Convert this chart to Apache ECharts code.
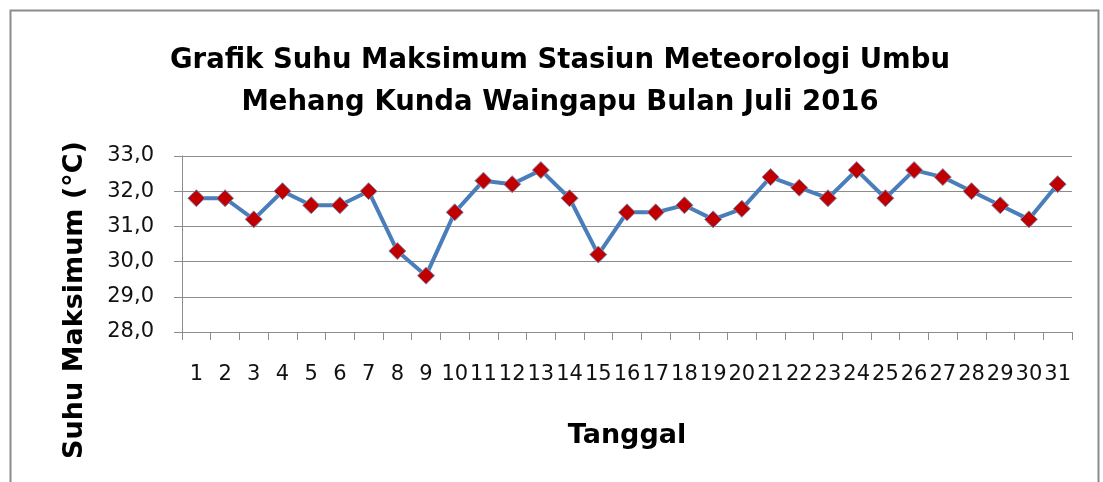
<!DOCTYPE html>
<html>
<head>
<meta charset="utf-8">
<script src="https://cdn.jsdelivr.net/npm/echarts@6/dist/echarts.min.js"></script>
<style>
  html, body { margin: 0; padding: 0; background: #fff; }
  #chart { width: 1103px; height: 482px; }
</style>
</head>
<body>
<div id="chart"></div>
<script>
// tanggal 1..31 Juli 2016
const tanggal = [];
for (let i = 1; i <= 31; i++) tanggal.push(String(i));

// suhu maksimum harian (°C)
const suhuMaks = [
  31.8, 31.8, 31.2, 32.0, 31.6, 31.6, 32.0, 30.3, 29.6, 31.4,
  32.3, 32.2, 32.6, 31.8, 30.2, 31.4, 31.4, 31.6, 31.2, 31.5,
  32.4, 32.1, 31.8, 32.6, 31.8, 32.6, 32.4, 32.0, 31.6, 31.2,
  32.2
];

const chart = echarts.init(document.getElementById("chart"));
const font = "DejaVu Sans";

const option = {
  animation: false,
  backgroundColor: "#fff",
  title: {
    text: "Grafik Suhu Maksimum Stasiun Meteorologi Umbu\nMehang Kunda Waingapu Bulan Juli 2016",
    left: 555,
    top: 35,
    textAlign: "center",
    textStyle: {
      fontFamily: font,
      fontWeight: "bold",
      fontSize: 27.5,
      lineHeight: 42,
      color: "#000",
    },
  },
  graphic: [
    {
      type: "rect",
      shape: { x: 10.5, y: 10.5, width: 1088, height: 480 },
      style: { fill: "none", stroke: "#8c8c8c", lineWidth: 2 },
      silent: true,
    },
    {
      type: "text",
      x: 75,
      y: 300,
      rotation: Math.PI / 2,
      style: {
        text: "Suhu Maksimum (°C)",
        fontFamily: font,
        fontWeight: "bold",
        fontSize: 27,
        fill: "#000",
        align: "center",
        verticalAlign: "middle",
      },
    },
  ],
  grid: {
    left: 182,
    right: 31,
    top: 156,
    bottom: 150,
  },
  xAxis: {
    type: "category",
    data: tanggal,
    boundaryGap: true,
    name: "Tanggal",
    nameLocation: "middle",
    nameGap: 90,
    nameTextStyle: {
      fontFamily: font,
      fontWeight: "bold",
      fontSize: 27,
      color: "#000",
      verticalAlign: "top",
    },
    axisLine: { lineStyle: { color: "#8c8c8c", width: 1 } },
    axisTick: { show: true, length: 8, lineStyle: { color: "#8c8c8c" } },
    axisLabel: {
      interval: 0,
      margin: 32,
      fontFamily: font,
      fontSize: 21,
      color: "#111",
    },
    splitLine: { show: false },
  },
  yAxis: {
    type: "value",
    min: 28,
    max: 33,
    interval: 1,
    axisLine: { show: true, lineStyle: { color: "#8c8c8c", width: 1 } },
    axisTick: { show: true, length: 8, lineStyle: { color: "#8c8c8c" } },
    axisLabel: {
      margin: 28,
      fontFamily: font,
      fontSize: 21,
      color: "#111",
      formatter: (v) => v.toFixed(1).replace(".", ","),
    },
    splitLine: { lineStyle: { color: "#8c8c8c", width: 1 } },
  },
  series: [
    {
      type: "line",
      data: suhuMaks,
      symbol: "diamond",
      symbolSize: 17,
      lineStyle: { color: "#4a7ebb", width: 4 },
      itemStyle: { color: "#c00000", borderColor: "#7a8fb5", borderWidth: 1 },
    },
  ],
};

chart.setOption(option);
</script>
</body>
</html>
